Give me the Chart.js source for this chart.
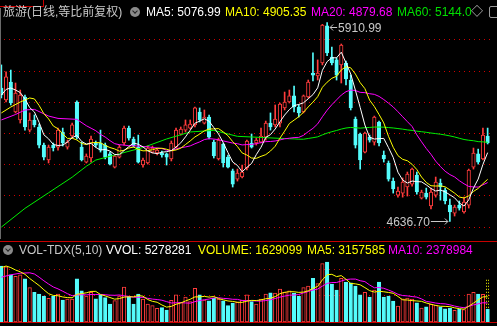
<!DOCTYPE html>
<html>
<head>
<meta charset="utf-8">
<script src="https://cdn.jsdelivr.net/npm/chart.js@4.4.1/dist/chart.umd.min.js"></script>
<style>
body { margin: 0; background: #000; width: 497px; height: 326px; overflow: hidden; position: relative;
       font-family: "Liberation Sans", "Noto Sans CJK SC", sans-serif; font-size: 12px; }
canvas { position: absolute; }
.t { position: absolute; white-space: nowrap; line-height: 14px; }
.line { position: absolute; background: #c80000; }
.knob { position: absolute; width: 10px; height: 10px; border-radius: 50%; background: #8a8a8a; }
.knob:after { content: ""; position: absolute; left: 3px; top: 2px; width: 3px; height: 3px;
              border-right: 1.5px solid #222; border-bottom: 1.5px solid #222; transform: rotate(45deg); }
</style>
</head>
<body>
<canvas id="priceChart" width="491" height="240" style="left:-1px;top:0"></canvas>
<canvas id="volChart" width="491" height="86" style="left:-1px;top:240px"></canvas>

<div class="line" style="left:0;top:6px;width:43px;height:1px"></div>
<div class="line" style="left:43px;top:0;width:1px;height:7px"></div>
<div class="line" style="left:0;top:241px;width:497px;height:1px"></div>
<div class="line" style="left:0;top:322px;width:497px;height:1px"></div>
<div style="position:absolute;left:0;top:8px;width:1px;height:231px;background:#6a6a6a"></div>

<div class="t" style="left:3px;top:5px;color:#c8c8c8">旅游(日线,等比前复权)</div>
<div class="knob" style="left:130px;top:7px"></div>
<div class="t" style="left:146px;top:5px;color:#ffffff">MA5: 5076.99</div>
<div class="t" style="left:225px;top:5px;color:#ffff00">MA10: 4905.35</div>
<div class="t" style="left:311px;top:5px;color:#ff00ff">MA20: 4879.68</div>
<div class="t" style="left:397px;top:5px;color:#00e000">MA60: 5144.0</div>
<div class="t" style="left:471px;top:5px;color:#c8c8c8">◇</div>
<div style="position:absolute;left:489px;top:6px;width:9px;height:10px;border:1px solid #9a9a9a;border-radius:2px"></div>

<div class="knob" style="left:3px;top:245px"></div>
<div class="t" style="left:19px;top:243px;color:#c8c8c8">VOL-TDX(5,10)</div>
<div class="t" style="left:106px;top:243px;color:#ffffff">VVOL: 5278281</div>
<div class="t" style="left:198px;top:243px;color:#ffff00">VOLUME: 1629099</div>
<div class="t" style="left:307px;top:243px;color:#ffff00">MA5: 3157585</div>
<div class="t" style="left:388px;top:243px;color:#ff00ff">MA10: 2378984</div>

<script>
// daily candles, oldest first
const opens = [5492,5415,5530,5338,5287,5434,5222,5287,5242,5126,
  5030,5126,5113,5210,5113,5184,5402,5113,5017,5043,
  5139,5139,5126,5069,4985,5049,5139,5235,5165,5113,
  4998,5011,5081,5075,5075,5069,5037,5113,5196,5222,
  5235,5255,5338,5267,5306,5145,5037,5133,5049,4960,
  4908,4921,4979,5139,5139,5145,5177,5267,5255,5267,
  5364,5402,5441,5370,5338,5434,5588,5569,5652,5890,
  5691,5672,5640,5652,5543,5293,5197,5081,5177,5145,
  5274,5062,5011,4895,4805,4818,4857,4876,4934,4786,
  4818,4735,4805,4882,4837,4741,4690,4741,4697,4741,
  4985,5069,5037,5184];
const highs = [5640,5595,5607,5524,5479,5447,5332,5319,5261,5139,
  5126,5139,5235,5235,5158,5267,5409,5145,5069,5184,
  5152,5222,5139,5081,5062,5126,5248,5248,5177,5190,
  5043,5120,5120,5100,5088,5075,5152,5235,5242,5287,
  5287,5370,5364,5351,5319,5158,5171,5139,5062,4972,
  4972,4998,5158,5197,5171,5235,5280,5332,5383,5396,
  5466,5479,5505,5383,5447,5543,5717,5672,5900,5910.99,
  5755,5685,5774,5665,5575,5306,5203,5210,5190,5312,
  5280,5088,5024,4915,4857,4915,4953,4979,4953,4837,
  4850,4850,4921,4908,4850,4780,4741,4767,4792,4972,
  5107,5100,5235,5235];
const lows = [5428,5402,5383,5332,5267,5222,5210,5242,5107,5030,
  5011,5088,5094,5120,5100,5171,5165,5024,5011,5017,
  5113,5081,5037,4998,4979,5043,5126,5158,5113,5011,
  4985,5004,5075,5062,5049,4998,5024,5107,5190,5210,
  5229,5242,5274,5261,5165,5043,5030,4985,4979,4857,
  4895,4915,4966,5107,5126,5139,5158,5222,5242,5242,
  5351,5396,5338,5306,5332,5428,5537,5543,5640,5700,
  5640,5543,5524,5511,5351,5107,4972,5075,5145,5126,
  5120,5017,4895,4818,4792,4792,4799,4863,4811,4780,
  4780,4716,4792,4773,4748,4636.70,4671,4709,4690,4722,
  4972,5004,5030,5133];
const closes = [5447,5563,5396,5460,5447,5242,5287,5255,5126,5049,
  5113,5107,5222,5139,5145,5255,5177,5030,5056,5165,
  5126,5094,5049,5004,5056,5113,5235,5171,5120,5017,
  5030,5107,5107,5094,5062,5049,5139,5222,5229,5255,
  5261,5364,5287,5306,5177,5056,5158,5011,4985,4876,
  4947,4953,5152,5113,5158,5184,5267,5242,5293,5389,
  5402,5441,5370,5332,5441,5530,5575,5588,5896,5717,
  5652,5575,5768,5550,5364,5126,5030,5203,5158,5306,
  5139,5037,4908,4844,4831,4889,4940,4972,4825,4825,
  4792,4825,4889,4857,4767,4697,4729,4722,4760,4966,
  5075,5017,5190,5139];
const volumes = [7000000,6900000,5900000,5700000,5900000,5400000,4300000,3700000,3500000,3250000,
  2950000,3200000,3500000,2750000,2850000,2850000,5400000,3900000,3250000,3700000,
  2900000,3400000,3050000,2250000,2670000,3250000,4350000,3200000,2250000,3500000,
  2850000,2250000,2050000,1700000,1800000,1500000,2700000,3400000,2450000,3100000,
  2550000,4200000,3400000,2750000,2650000,2950000,2850000,2650000,2050000,2350000,
  2450000,2750000,3400000,2550000,2250000,2850000,3500000,3650000,3600000,4100000,
  3700000,3900000,3600000,3200000,4300000,4500000,5450000,4800000,7300000,7500000,
  4750000,4000000,5450000,5000000,4900000,4500000,3400000,3700000,3100000,4000000,
  5000000,3100000,3250000,2600000,2000000,2900000,3000000,2850000,2400000,1750000,
  1900000,2200000,2100000,1900000,1650000,1750000,1450000,1600000,1550000,3500000,
  3700000,3500000,3450000,1629099];
const virtualVolume = 5278281;

// averages before enough history is on screen (index: value)
const ma5Head = {0: 5447, 1: 5483, 2: 5492, 3: 5479};
const ma10Head = {0: 5332, 2: 5370, 4: 5402, 6: 5428, 7: 5422, 8: 5380};
const ma20Head = {0: 5287, 3: 5322, 5: 5351, 7: 5355, 10: 5312, 12: 5297, 16: 5291, 18: 5250};
const ma60Head = {0: 4600, 5: 4720, 10: 4820, 15: 4920, 18: 4990, 20: 5030, 25: 5070,
  30: 5110, 35: 5165, 40: 5210, 45: 5220, 50: 5182, 55: 5175};
const volMa5Head = {0: 6800000, 1: 7000000, 2: 6800000, 3: 6500000};
const volMa10Head = {0: 5600000, 2: 5900000, 4: 6100000, 6: 6150000, 7: 6000000, 8: 5600000};

const priceGrid = [4600, 4800, 5000, 5200, 5400, 5600, 5800];
const volGrid = [3300000, 6600000];

const days = closes.map((_, i) => String(i));
const RED = '#ff3c3c', CYAN = '#54fcfc', GRID = '#d00000';
const up = closes.map((c, i) => c >= opens[i]);

function movingAvg(src, n, head) {
  return src.map((_, i) => {
    if (i < n - 1) return head[i] !== undefined ? head[i] : null;
    let s = 0;
    for (let j = i - n + 1; j <= i; j++) s += src[j];
    return s / n;
  });
}

function maLine(label, data, color) {
  return { type: 'line', label: label, data: data, borderColor: color, borderWidth: 1,
           pointRadius: 0, spanGaps: true, tension: 0, order: 0 };
}

function yAxis(min, max, grid) {
  return {
    min: min, max: max,
    afterFit: s => { s.width = 0; },
    afterBuildTicks: s => { s.ticks = grid.map(v => ({ value: v })); },
    ticks: { display: false },
    border: { display: false, dash: [1, 4] },
    grid: { color: GRID, drawTicks: false }
  };
}

const extremeLabels = {
  id: 'extremeLabels',
  afterDatasetsDraw(chart) {
    const { ctx, scales: { x, y } } = chart;
    const hi = highs.indexOf(Math.max(...highs));
    const lo = lows.indexOf(Math.min(...lows));
    ctx.save();
    ctx.strokeStyle = '#c8c8c8';
    ctx.fillStyle = '#c8c8c8';
    ctx.lineWidth = 1;
    ctx.font = '12px "Liberation Sans"';
    ctx.textBaseline = 'middle';

    let px = x.getPixelForValue(hi);
    let py = Math.round(y.getPixelForValue(highs[hi])) + 4.5;
    ctx.beginPath();
    ctx.moveTo(px + 3, py); ctx.lineTo(px + 10, py);
    ctx.moveTo(px + 3, py); ctx.lineTo(px + 6, py - 3);
    ctx.moveTo(px + 3, py); ctx.lineTo(px + 6, py + 3);
    ctx.stroke();
    ctx.textAlign = 'left';
    ctx.fillText(highs[hi].toFixed(2), px + 11, py + 1);

    px = x.getPixelForValue(lo);
    py = Math.round(y.getPixelForValue(lows[lo])) + 0.5;
    ctx.beginPath();
    ctx.moveTo(px - 19, py); ctx.lineTo(px - 2, py);
    ctx.moveTo(px - 2, py); ctx.lineTo(px - 5, py - 3);
    ctx.moveTo(px - 2, py); ctx.lineTo(px - 5, py + 3);
    ctx.stroke();
    ctx.textAlign = 'right';
    ctx.fillText(lows[lo].toFixed(2), px - 20, py + 1);
    ctx.restore();
  }
};

const virtualBar = {
  id: 'virtualBar',
  afterDatasetsDraw(chart) {
    const { ctx, scales: { x, y } } = chart;
    const last = volumes.length - 1;
    const cx = x.getPixelForValue(last);
    const top = y.getPixelForValue(virtualVolume);
    const bottom = y.getPixelForValue(volumes[last]);
    ctx.save();
    ctx.strokeStyle = '#ffff00';
    ctx.lineWidth = 1;
    ctx.setLineDash([1, 2]);
    ctx.beginPath();
    [Math.round(cx - 1.5) + 0.5, Math.round(cx + 1.5) - 0.5].forEach(lx => {
      ctx.moveTo(lx, top); ctx.lineTo(lx, bottom);
    });
    ctx.stroke();
    ctx.restore();
  }
};

new Chart(document.getElementById('priceChart'), {
  type: 'bar',
  data: {
    labels: days,
    datasets: [
      maLine('MA5', movingAvg(closes, 5, ma5Head), '#ffffff'),
      maLine('MA10', movingAvg(closes, 10, ma10Head), '#ffff00'),
      maLine('MA20', movingAvg(closes, 20, ma20Head), '#ff00ff'),
      maLine('MA60', movingAvg(closes, 60, ma60Head), '#00f000'),
      {
        label: 'body',
        data: opens.map((o, i) => [o, closes[i]]),
        backgroundColor: up.map(u => u ? '#000000' : CYAN),
        borderColor: up.map(u => u ? RED : CYAN),
        borderWidth: 1, borderSkipped: false,
        barThickness: 3.5, grouped: false, order: 5
      },
      {
        label: 'wick',
        data: lows.map((l, i) => [l, highs[i]]),
        backgroundColor: up.map(u => u ? RED : CYAN),
        barThickness: 1, grouped: false, order: 6
      }
    ]
  },
  options: {
    responsive: false,
    animation: false,
    layout: { padding: { top: 8, bottom: 2, left: 0, right: 0 } },
    plugins: { legend: { display: false }, tooltip: { enabled: false } },
    scales: {
      x: { display: false, offset: true },
      y: yAxis(4530, 6005, priceGrid)
    }
  },
  plugins: [extremeLabels]
});

new Chart(document.getElementById('volChart'), {
  type: 'bar',
  data: {
    labels: days,
    datasets: [
      maLine('MA5', movingAvg(volumes, 5, volMa5Head), '#ffff00'),
      maLine('MA10', movingAvg(volumes, 10, volMa10Head), '#ff00ff'),
      {
        label: 'VOLUME',
        data: volumes,
        backgroundColor: up.map(u => u ? '#000000' : CYAN),
        borderColor: up.map(u => u ? RED : CYAN),
        borderWidth: 1, borderSkipped: false,
        barThickness: 3.5, grouped: false, order: 5
      }
    ]
  },
  options: {
    responsive: false,
    animation: false,
    layout: { padding: { top: 18, bottom: 4, left: 0, right: 0 } },
    plugins: { legend: { display: false }, tooltip: { enabled: false } },
    scales: {
      x: { display: false, offset: true },
      y: yAxis(0, 8000000, volGrid)
    }
  },
  plugins: [virtualBar]
});
</script>
</body>
</html>
